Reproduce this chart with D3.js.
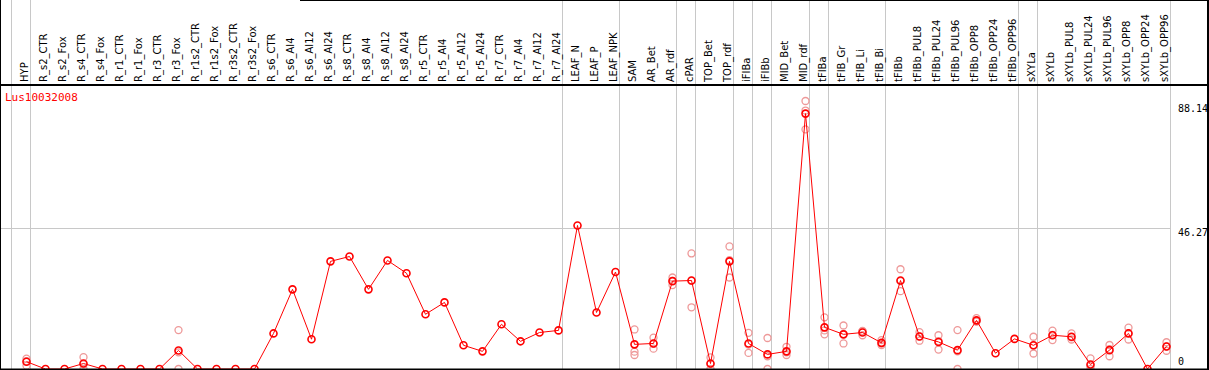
<!DOCTYPE html>
<html>
<head>
<meta charset="utf-8">
<script src="https://cdn.jsdelivr.net/npm/d3@7"></script>
<style>
  body { margin: 0; background: #fff; }
  svg { display: block; }
</style>
</head>
<body>
<script>
// sample names (columns)
const labels = ["HYP","R_s2_CTR","R_s2_Fox","R_s4_CTR","R_s4_Fox","R_r1_CTR","R_r1_Fox","R_r3_CTR","R_r3_Fox",
  "R_r1s2_CTR","R_r1s2_Fox","R_r3s2_CTR","R_r3s2_Fox","R_s6_CTR","R_s6_Al4","R_s6_Al12","R_s6_Al24",
  "R_s8_CTR","R_s8_Al4","R_s8_Al12","R_s8_Al24","R_r5_CTR","R_r5_Al4","R_r5_Al12","R_r5_Al24",
  "R_r7_CTR","R_r7_Al4","R_r7_Al12","R_r7_Al24","LEAF_N","LEAF_P","LEAF_NPK","SAM","AR_Bet","AR_rdf",
  "cPAR","TOP_Bet","TOP_rdf","iFIBa","iFIBb","MID_Bet","MID_rdf","tFIBa","tFIB_Gr","tFIB_Li","tFIB_Bi",
  "tFIBb","tFIBb_PUL8","tFIBb_PUL24","tFIBb_PUL96","tFIBb_OPP8","tFIBb_OPP24","tFIBb_OPP96",
  "sXYLa","sXYLb","sXYLb_PUL8","sXYLb_PUL24","sXYLb_PUL96","sXYLb_OPP8","sXYLb_OPP24","sXYLb_OPP96"];

// mean expression per sample
const means = [2.4,0,0,1.8,0,0,0,0,6.1,
  0,0,0,0,11.7,26.2,9.8,35.4,
  37.0,26.2,35.7,31.5,18.0,21.9,7.8,5.8,
  14.7,9.1,12.0,12.7,47.2,18.6,31.9,8.1,8.4,28.9,
  29.1,1.8,35.4,8.4,4.8,5.8,84.0,13.7,11.4,12.0,8.6,
  29.1,10.7,8.9,6.2,16.0,5.2,9.9,
  7.8,11.1,10.6,1.5,6.2,11.7,0,7.4];

// replicate values (empty where replicates sit under the mean)
const reps = [[3.4,1.1,2.6],[],[],[3.9,0,1.5],[],[],[],[],[12.8,0,5.5],
  [],[],[],[],[],[],[],[],
  [],[],[],[],[],[],[],[],
  [],[],[],[],[],[],[],[13.0,5.7,4.6],[10.3,6.7,8.3],[30.1,27.6,29.0],
  [38.0,20.3,29.0],[3.8,0,1.6],[40.3,30.1,35.8],[11.9,5.3,8.0],[10.2,0,4.2],[7.3,4.6,5.5],[88.14,78.8,85.0],
  [17.0,11.4,12.7],[14.3,8.4,11.5],[12.5,11.1,12.4],[9.5,7.9,8.4],
  [32.8,25.6,28.9],[12.1,9.3,10.7],[11.1,6.4,9.2],[12.8,0,5.8],[16.7,15.6,15.7],[],[],
  [10.6,5.1,7.7],[12.6,9.5,11.2],[11.7,9.7,10.4],[3.5,0,1.0],[7.9,4.2,6.5],[13.6,9.7,11.8],[],[8.8,6.0,7.4]];

// group separators sit just right of these columns (-1 = before first)
const groupEnds = [-1,0,28,31,34,35,37,38,39,41,42,45,52,53,60];
const axisTicks = [88.14, 46.27, 0];
const geneName = "Lus10032008";

const w = 1209, h = 370;
const headerH = 85;

const x = d3.scalePoint().domain(labels).range([26.5, 26.5 + 19 * (labels.length - 1)]);
const step = x.step();
const y = d3.scaleLinear().domain([0, 88.14]).range([369, 101]);

const svg = d3.select("body").append("svg")
  .attr("width", w)
  .attr("height", h);

// vertical group lines
svg.selectAll(".sep")
  .data(groupEnds).enter()
  .append("line")
  .attr("x1", d => 26.5 + step * d + 4)
  .attr("x2", d => 26.5 + step * d + 4)
  .attr("y1", 0)
  .attr("y2", h)
  .style("stroke", "#c8c8c8")
  .style("stroke-width", 1);

// horizontal reference line
svg.append("line")
  .attr("x1", 0)
  .attr("x2", 26.5 + step * 60 + 4)
  .attr("y1", Math.round(y(46.27)) + 0.5)
  .attr("y2", Math.round(y(46.27)) + 0.5)
  .style("stroke", "#c8c8c8");

// column labels
svg.selectAll(".lab")
  .data(labels).enter()
  .append("text")
  .attr("transform", d => `translate(${x(d) + 1},82) rotate(-90)`)
  .attr("font-family", "DejaVu Sans")
  .attr("font-size", "10px")
  .attr("fill", "#000")
  .text(d => d);

// replicates
const repPts = [];
reps.forEach((r, i) => r.forEach(v => repPts.push({ name: labels[i], v })));
svg.selectAll(".rep")
  .data(repPts).enter()
  .append("circle")
  .attr("cx", d => x(d.name))
  .attr("cy", d => y(d.v))
  .attr("r", 3.5)
  .style("fill", "none")
  .style("stroke", "#ee9999")
  .style("stroke-width", 1.3);

// mean line
const line = d3.line()
  .x((d, i) => x(labels[i]))
  .y(d => y(d));
svg.append("path")
  .datum(means)
  .attr("d", line)
  .style("fill", "none")
  .style("stroke", "#ff0000")
  .style("stroke-width", 1);

svg.selectAll(".mean")
  .data(means).enter()
  .append("circle")
  .attr("cx", (d, i) => x(labels[i]))
  .attr("cy", d => y(d))
  .attr("r", 3.5)
  .style("fill", "none")
  .style("stroke", "#ff0000")
  .style("stroke-width", 1.6);

// right axis labels
const tickOff = { "88.14": 11, "46.27": 8, "0": -4 };
svg.selectAll(".tick")
  .data(axisTicks).enter()
  .append("text")
  .attr("x", 1178)
  .attr("y", d => y(d) + tickOff[String(d)])
  .attr("font-family", "DejaVu Sans Mono")
  .attr("font-size", "10px")
  .text(d => String(d));

// gene name
svg.append("text")
  .attr("x", 5)
  .attr("y", 101)
  .attr("font-family", "DejaVu Sans Mono")
  .attr("font-size", "11px")
  .attr("fill", "#ff0000")
  .text(geneName);

// frame
svg.append("line").attr("x1", 0).attr("x2", w).attr("y1", headerH).attr("y2", headerH)
  .style("stroke", "#000").style("stroke-width", 2);
svg.append("line").attr("x1", 300).attr("x2", w).attr("y1", 0.5).attr("y2", 0.5)
  .style("stroke", "#000");
svg.append("line").attr("x1", 0.5).attr("x2", 0.5).attr("y1", 0).attr("y2", h)
  .style("stroke", "#000");
svg.append("line").attr("x1", 1208).attr("x2", 1208).attr("y1", 0).attr("y2", h)
  .style("stroke", "#000").style("stroke-width", 2);
svg.append("line").attr("x1", 0).attr("x2", w).attr("y1", 369.5).attr("y2", 369.5)
  .style("stroke", "#000").style("stroke-width", 2);
</script>
</body>
</html>
